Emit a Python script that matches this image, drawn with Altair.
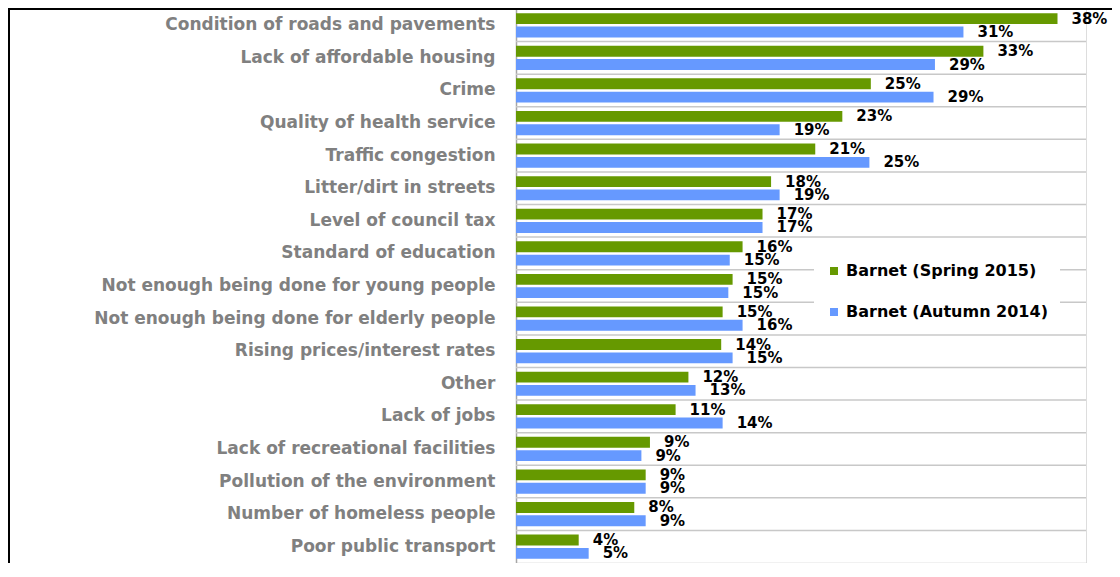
import altair as alt
import pandas as pd

categories = [
    "Condition of roads and pavements",
    "Lack of affordable housing",
    "Crime",
    "Quality of health service",
    "Traffic congestion",
    "Litter/dirt in streets",
    "Level of council tax",
    "Standard of education",
    "Not enough being done for young people",
    "Not enough being done for elderly people",
    "Rising prices/interest rates",
    "Other",
    "Lack of jobs",
    "Lack of recreational facilities",
    "Pollution of the environment",
    "Number of homeless people",
    "Poor public transport",
]
series_names = ["Barnet (Spring 2015)", "Barnet (Autumn 2014)"]

# bar lengths (percent)
spring_values = [38.0, 32.8, 24.9, 22.9, 21.0, 17.9, 17.3, 15.9, 15.2, 14.5, 14.4, 12.1, 11.2, 9.4, 9.1, 8.3, 4.4]
autumn_values = [31.4, 29.4, 29.3, 18.5, 24.8, 18.5, 17.3, 15.0, 14.9, 15.9, 15.2, 12.6, 14.5, 8.8, 9.1, 9.1, 5.1]
# printed labels
spring_labels = ["38%", "33%", "25%", "23%", "21%", "18%", "17%", "16%", "15%", "15%", "14%", "12%", "11%", "9%", "9%", "8%", "4%"]
autumn_labels = ["31%", "29%", "29%", "19%", "25%", "19%", "17%", "15%", "15%", "16%", "15%", "13%", "14%", "9%", "9%", "9%", "5%"]

colors = ["#669900", "#6699ff"]

rows = []
for i, c in enumerate(categories):
    rows.append({"category": c, "series": series_names[0], "value": spring_values[i], "label": spring_labels[i]})
    rows.append({"category": c, "series": series_names[1], "value": autumn_values[i], "label": autumn_labels[i]})
df = pd.DataFrame(rows)
cat_df = pd.DataFrame({"category": categories})

y_enc = alt.Y(
    "category:N",
    sort=categories,
    scale=alt.Scale(paddingInner=0, paddingOuter=0),
    axis=alt.Axis(
        title=None,
        ticks=False,
        domain=True,
        domainColor="#a6a6a6",
        domainWidth=1.5,
        labelFont="DejaVu Sans",
        labelFontWeight="bold",
        labelFontSize=17,
        labelColor="#808080",
        labelPadding=21,
        labelLimit=600,
    ),
)
x_enc = alt.X(
    "value:Q",
    scale=alt.Scale(domain=[0, 40]),
    axis=alt.Axis(title=None, labels=False, ticks=False, grid=False,
                  domain=True, domainColor="#c8c8c8", domainWidth=1.5),
)
yoff_enc = alt.YOffset(
    "series:N",
    sort=series_names,
    scale=alt.Scale(paddingInner=0.185, paddingOuter=0.315),
)

grid = alt.Chart(cat_df).mark_rule(color="#c8c8c8", strokeWidth=1.5).encode(
    y=alt.Y("category:N", sort=categories, bandPosition=0),
)

bars = alt.Chart(df).mark_bar().encode(
    y=y_enc,
    x=x_enc,
    yOffset=yoff_enc,
    color=alt.Color(
        "series:N",
        sort=series_names,
        scale=alt.Scale(domain=series_names, range=colors),
        legend=alt.Legend(
            title=None,
            orient="none",
            legendX=298,
            legendY=242,
            fillColor="white",
            padding=12,
            symbolType="square",
            symbolSize=64,
            symbolStrokeWidth=0,
            labelFont="DejaVu Sans",
            labelFontWeight="bold",
            labelFontSize=16,
            labelColor="black",
            labelOffset=4,
            rowPadding=25,
            labelLimit=400,
        ),
    ),
)

text = alt.Chart(df).mark_text(
    align="left", baseline="middle", dx=14,
    font="DejaVu Sans", fontWeight="bold", fontSize=15, color="black",
).encode(
    y=alt.Y("category:N", sort=categories),
    x=alt.X("value:Q"),
    yOffset=alt.YOffset("series:N", sort=series_names),
    text="label:N",
)

border_left = alt.Chart(pd.DataFrame({"a": [0]})).mark_rule(color="black", strokeWidth=2).encode(
    x=alt.value(-507), y=alt.value(-5), y2=alt.value(700)
)
border_top = alt.Chart(pd.DataFrame({"a": [0]})).mark_rule(color="black", strokeWidth=2).encode(
    x=alt.value(-510), x2=alt.value(700), y=alt.value(0)
)

chart = alt.layer(grid, bars, text, border_left, border_top).properties(
    width=570,
    height=554,
    autosize=alt.AutoSizeParams(type="none"),
    padding={"left": 508, "top": 1, "right": 26, "bottom": 0},
).configure_view(stroke=None).configure(background="white")

chart.save("out.html", embed_options={"renderer": "svg", "actions": False})
